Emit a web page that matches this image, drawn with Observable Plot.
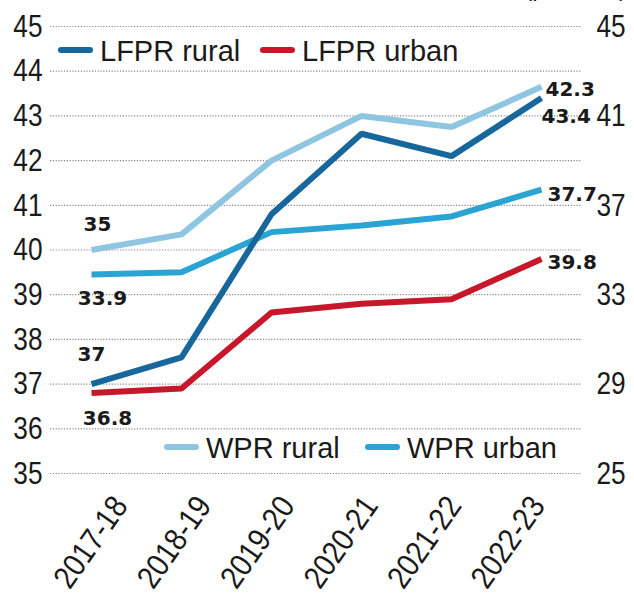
<!DOCTYPE html>
<html>
<head>
<meta charset="utf-8">
<script src="https://cdn.jsdelivr.net/npm/d3@7"></script>
<script src="https://cdn.jsdelivr.net/npm/@observablehq/plot@0.6"></script>
<style>
  html, body { margin: 0; padding: 0; background: #fff; }
  #chart { width: 634px; height: 596px; overflow: hidden; }
</style>
</head>
<body>
<div id="chart"></div>
<script>
// ---- data ----
const years = ["2017-18", "2018-19", "2019-20", "2020-21", "2021-22", "2022-23"];
// LFPR (left axis)
const lfprRural = [37.0, 37.6, 40.8, 42.6, 42.1, 43.4];
const lfprUrban = [36.8, 36.9, 38.6, 38.8, 38.9, 39.8];
// WPR (right axis)
const wprRural = [35.0, 35.7, 39.0, 41.0, 40.5, 42.3];
const wprUrban = [33.9, 34.0, 35.8, 36.1, 36.5, 37.7];
const leftTicks = [35, 36, 37, 38, 39, 40, 41, 42, 43, 44, 45];
const rightTicks = [25, 29, 33, 37, 41, 45];
const seriesNames = ["WPR rural", "WPR urban", "LFPR urban", "LFPR rural"];
const seriesColors = ["#8ec6e2", "#2aa4d2", "#c8172b", "#17679c"];

// right axis (WPR) -> left axis (LFPR) units
const toLeft = v => 35 + (v - 25) / 2;
const toRight = v => (v - 35) * 2 + 25;

const rows = [];
years.forEach((y, i) => {
  rows.push({year: y, series: "WPR rural", value: toLeft(wprRural[i]), label: wprRural[i]});
  rows.push({year: y, series: "WPR urban", value: toLeft(wprUrban[i]), label: wprUrban[i]});
  rows.push({year: y, series: "LFPR urban", value: lfprUrban[i], label: lfprUrban[i]});
  rows.push({year: y, series: "LFPR rural", value: lfprRural[i], label: lfprRural[i]});
});

const TICK_FONT = "'Liberation Sans', Arial, sans-serif";
const LEG_FONT = "'Liberation Sans', Arial, sans-serif";
const LBL_FONT = "'DejaVu Sans', sans-serif";
const INK = "#1a1a1a";

function valueLabel(series, year, opts) {
  return Plot.text(rows.filter(d => d.series === series && d.year === year), {
    x: "year", y: "value", text: d => String(d.label),
    fontFamily: LBL_FONT, fontWeight: "bold", fontSize: 20, fill: INK,
    ...opts
  });
}

// rotated year labels, placed from the x scale
function xLabels(index, scales, values, dimensions) {
  const g = d3.create("svg:g");
  const x = scales.x;
  const x0 = x(years[0]);
  const yb = dimensions.height - dimensions.marginBottom;
  for (const yr of years) {
    const px = x(yr);
    const ax = px + 38 - 0.073 * (px - x0);
    g.append("text")
      .attr("transform", `translate(${ax},${yb + 33}) rotate(-55) scale(0.88,1)`)
      .attr("text-anchor", "end")
      .attr("font-family", TICK_FONT)
      .attr("font-size", 32)
      .attr("fill", INK)
      .text(yr);
  }
  return g.node();
}

function legend() {
  const g = d3.create("svg:g");
  const items = [
    {name: "LFPR rural", x: 58, y: 50, c: seriesColors[3]},
    {name: "LFPR urban", x: 260, y: 50, c: seriesColors[2]},
    {name: "WPR rural", x: 164, y: 447, c: seriesColors[0]},
    {name: "WPR urban", x: 365, y: 447, c: seriesColors[1]}
  ];
  for (const it of items) {
    g.append("line")
      .attr("x1", it.x + 3).attr("x2", it.x + 32)
      .attr("y1", it.y).attr("y2", it.y)
      .attr("stroke", it.c).attr("stroke-width", 6).attr("stroke-linecap", "round");
    g.append("text")
      .attr("x", it.x + 42).attr("y", it.y + 11)
      .attr("text-anchor", "start")
      .attr("font-family", LEG_FONT).attr("font-size", 29)
      .attr("fill", INK)
      .text(it.name);
  }
  g.append("text")
    .attr("x", 627).attr("y", -4)
    .attr("text-anchor", "end")
    .attr("font-family", LEG_FONT).attr("font-size", 24)
    .attr("fill", INK)
    .text("(per cent)");
  return g.node();
}

const chart = Plot.plot({
  width: 634,
  height: 596,
  marginLeft: 50,
  marginRight: 52,
  marginTop: 26,
  marginBottom: 123,
  style: {background: "#fff", color: INK, overflow: "visible"},
  x: {type: "point", domain: years, padding: 0.43, label: null, axis: null},
  y: {domain: [35, 45], label: null},
  color: {domain: seriesNames, range: seriesColors},
  marks: [
    Plot.ruleY(leftTicks, {stroke: "#888", strokeWidth: 1.2, strokeDasharray: "1.2,1.6"}),
    Plot.axisY({anchor: "left", ticks: leftTicks, tickSize: 0, tickPadding: 8,
      fontSize: 32, fontFamily: TICK_FONT, label: null}),
    Plot.axisY({anchor: "right", ticks: rightTicks.map(toLeft), tickFormat: d => String(toRight(d)),
      tickSize: 0, tickPadding: 14, fontSize: 32, fontFamily: TICK_FONT, label: null}),
    xLabels,
    Plot.line(rows, {x: "year", y: "value", z: "series", stroke: "series",
      strokeWidth: 6, strokeLinejoin: "miter", strokeLinecap: "butt", curve: "linear"}),
    valueLabel("WPR rural", years[0], {dx: 6, dy: -25}),
    valueLabel("WPR urban", years[0], {dx: 11, dy: 24}),
    valueLabel("LFPR rural", years[0], {dx: 0, dy: -30}),
    valueLabel("LFPR urban", years[0], {dx: 16, dy: 26}),
    valueLabel("WPR rural", years[5], {dx: 4, dy: 3, textAnchor: "start"}),
    valueLabel("LFPR rural", years[5], {dx: 0, dy: 19, textAnchor: "start"}),
    valueLabel("WPR urban", years[5], {dx: 6, dy: 5, textAnchor: "start"}),
    valueLabel("LFPR urban", years[5], {dx: 6, dy: 4, textAnchor: "start"}),
    legend
  ]
});

// condense the y tick labels (narrow face look)
chart.querySelectorAll("g[aria-label*='tick label'] text").forEach(t => {
  const tr = t.getAttribute("transform");
  if (tr) {
    t.setAttribute("transform", tr + " scale(0.82,1)");
  } else {
    const x = +(t.getAttribute("x") || 0);
    t.setAttribute("transform", `translate(${x},0) scale(0.82,1) translate(${-x},0)`);
  }
});

document.getElementById("chart").appendChild(chart);
</script>
</body>
</html>
